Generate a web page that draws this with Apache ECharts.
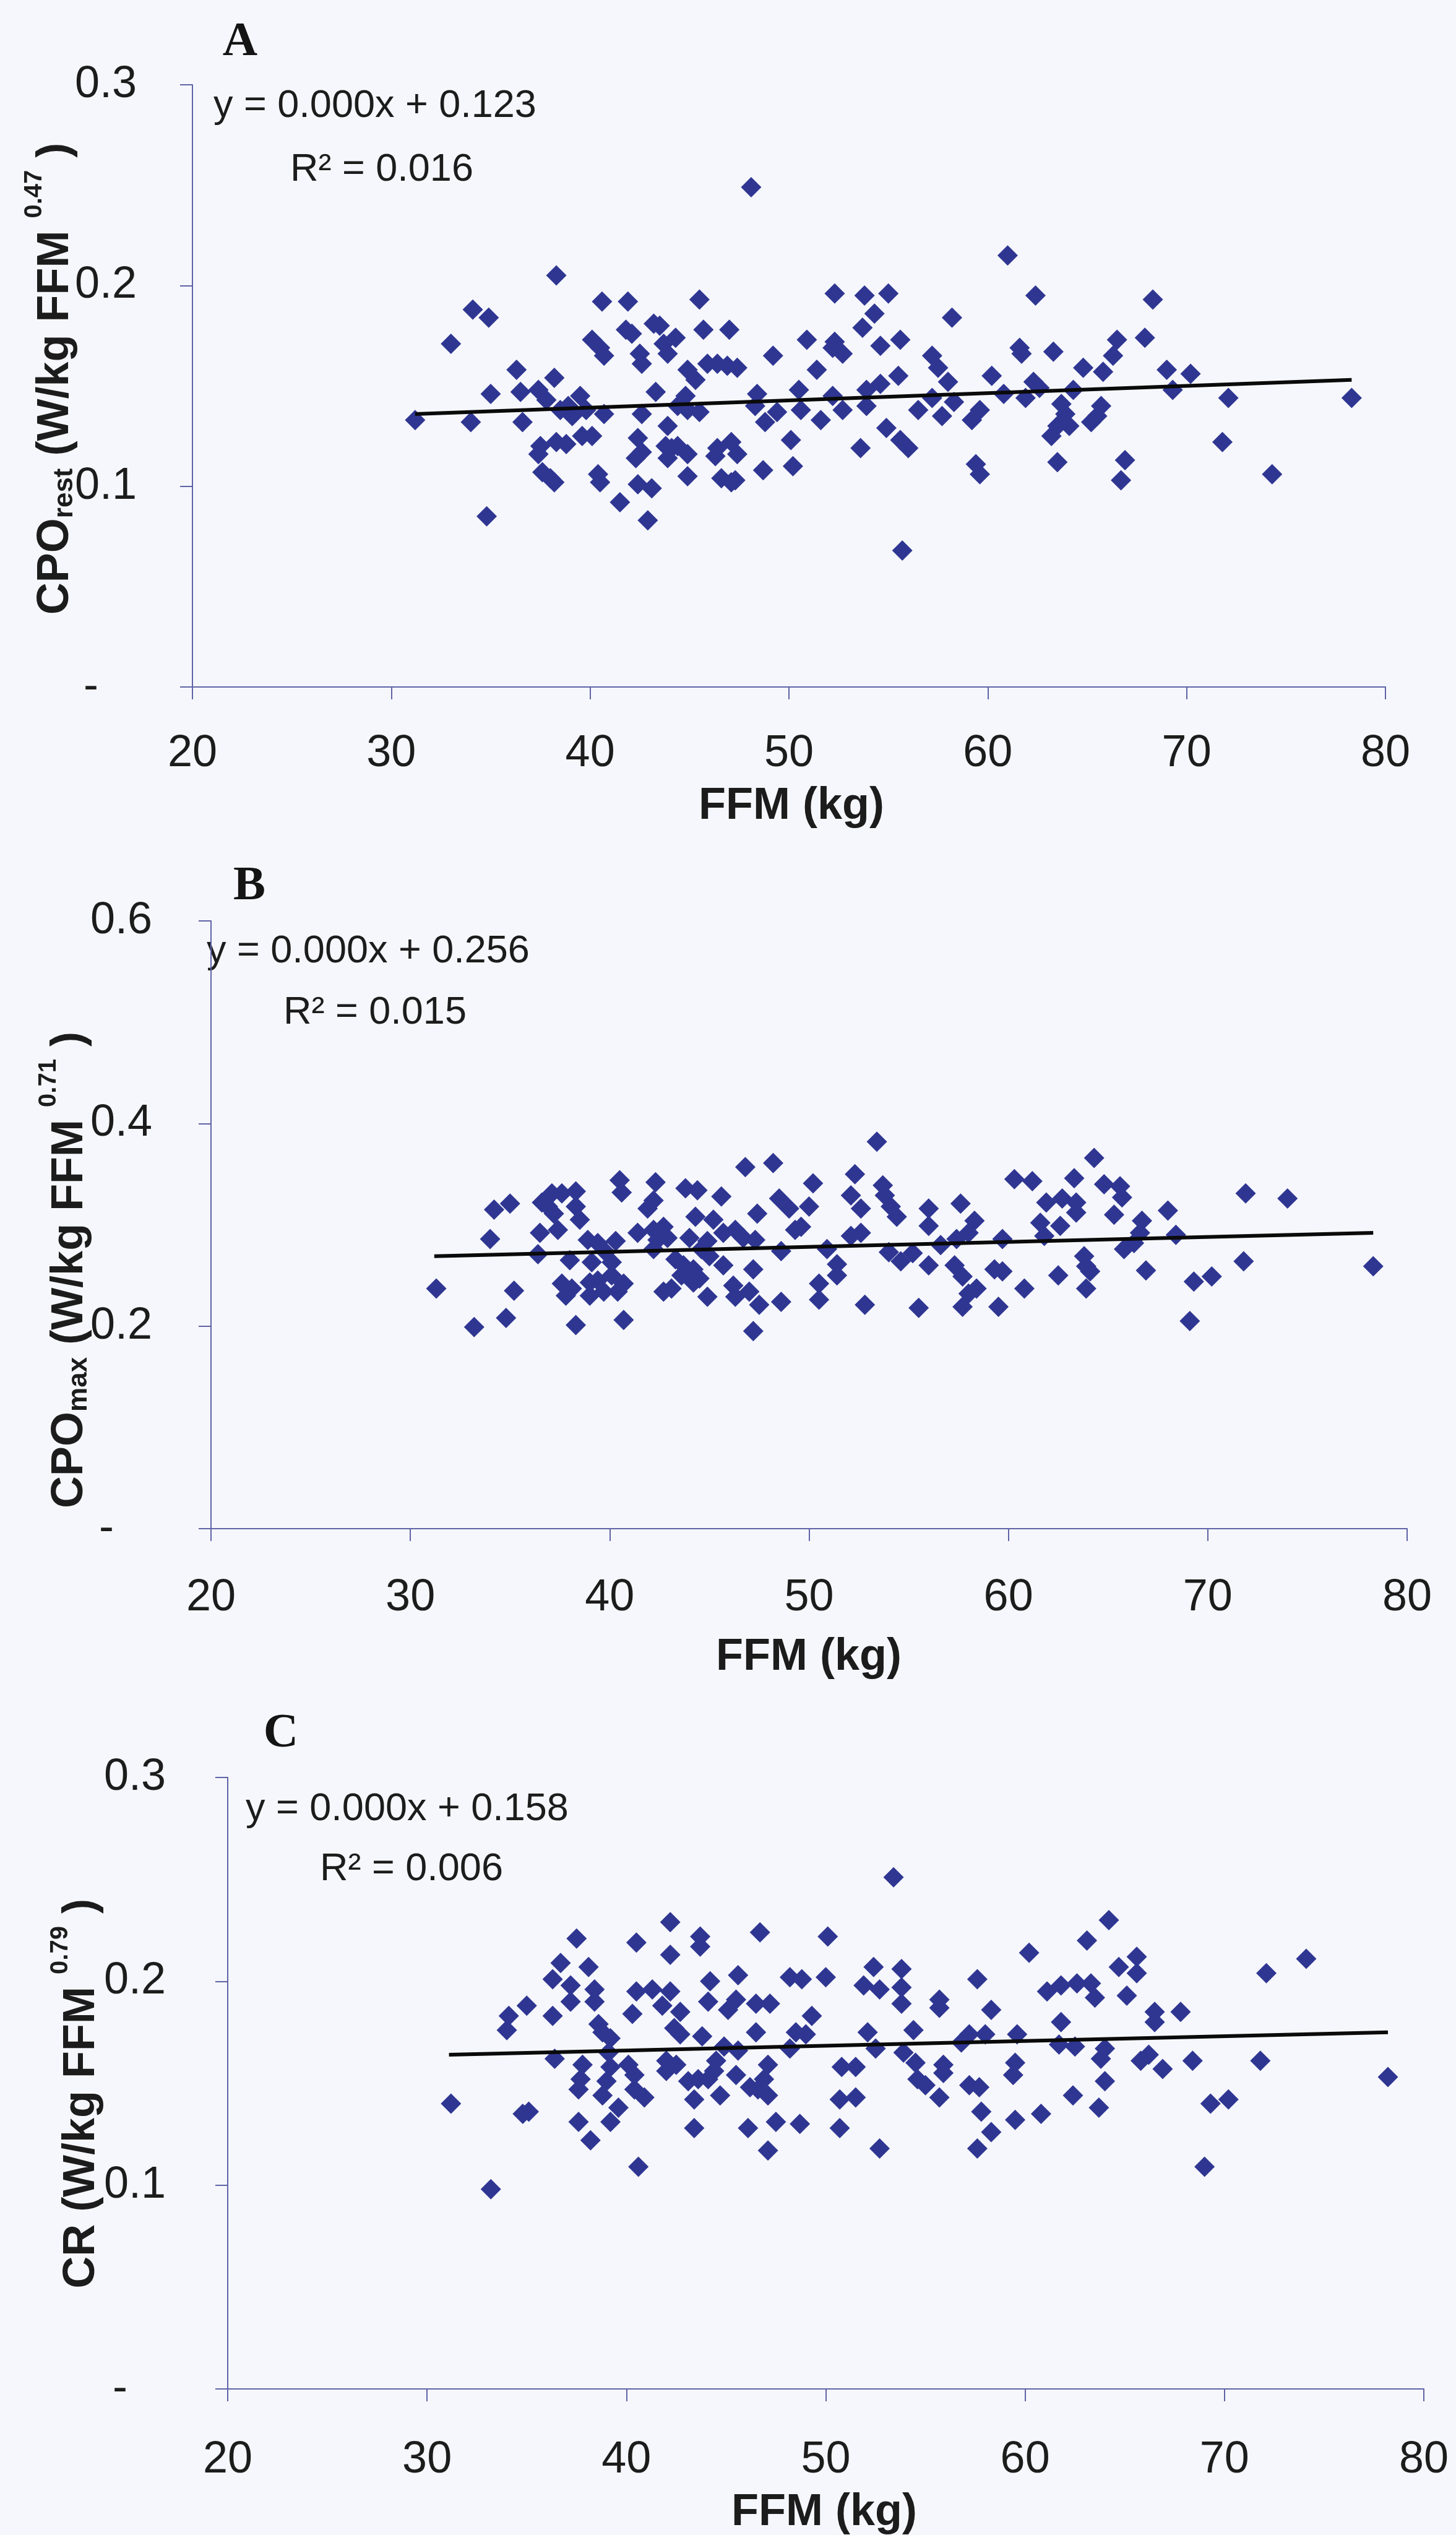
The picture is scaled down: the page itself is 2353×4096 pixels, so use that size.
<!DOCTYPE html>
<html><head><meta charset="utf-8">
<script src="https://cdn.jsdelivr.net/npm/echarts@6/dist/echarts.min.js"></script>
<style>html,body{margin:0;padding:0;background:#f6f7fc}#c{width:2353px;height:4096px}</style>
</head><body><div id="c"></div>
<script>
// Panel A: FFM (kg) vs CPO rest
const pointsA = [[48.1,0.249],[38.3,0.205],[34.1,0.188],[34.9,0.184],[33.0,0.171],[40.6,0.192],[41.9,0.192],[45.5,0.193],[52.3,0.196],[53.8,0.195],
[55.0,0.196],[54.3,0.186],[53.7,0.179],[54.6,0.170],[55.6,0.173],[41.8,0.178],[42.1,0.176],[43.2,0.181],[43.5,0.180],[45.7,0.178],
[47.0,0.178],[40.1,0.173],[40.5,0.169],[40.7,0.165],[43.7,0.171],[44.3,0.174],[43.9,0.166],[42.5,0.166],[42.6,0.161],[49.2,0.165],
[50.9,0.173],[52.3,0.172],[52.7,0.166],[52.2,0.169],[51.4,0.158],[44.9,0.158],[45.9,0.161],[46.4,0.161],[46.9,0.160],[47.4,0.159],
[45.3,0.153],[36.3,0.158],[38.2,0.154],[35.0,0.146],[36.5,0.147],[37.4,0.148],[31.2,0.133],[34.0,0.132],[36.6,0.132],[37.8,0.143],
[38.5,0.138],[39.1,0.135],[39.5,0.145],[39.8,0.138],[38.9,0.140],[40.7,0.136],[43.3,0.147],[42.6,0.136],[43.9,0.130],[44.4,0.140],
[44.8,0.145],[44.9,0.138],[45.5,0.137],[48.4,0.146],[48.3,0.140],[48.8,0.132],[49.4,0.137],[50.5,0.148],[50.6,0.138],[51.6,0.133],
[52.2,0.145],[52.7,0.138],[53.9,0.140],[53.9,0.148],[54.6,0.151],[55.5,0.155],[54.9,0.129],[55.6,0.123],[53.6,0.119],[50.1,0.123],
[50.2,0.110],[48.7,0.108],[47.1,0.122],[47.4,0.116],[46.4,0.119],[46.3,0.115],[46.6,0.104],[47.1,0.102],[47.3,0.103],[44.9,0.105],
[44.9,0.116],[44.1,0.119],[43.9,0.114],[44.4,0.120],[43.8,0.120],[42.4,0.124],[42.3,0.114],[42.6,0.117],[42.4,0.101],[43.1,0.099],
[42.9,0.083],[41.5,0.092],[40.4,0.106],[40.5,0.102],[40.1,0.125],[39.6,0.125],[38.8,0.121],[38.3,0.122],[37.5,0.120],[37.4,0.116],
[37.6,0.107],[38.0,0.104],[38.2,0.102],[34.8,0.085],[55.7,0.068],
[61.0,0.215],[62.4,0.195],[68.3,0.193],[58.2,0.184],[57.2,0.165],[57.5,0.159],[58.0,0.152],[61.6,0.169],[61.7,0.166],[63.3,0.167],
[64.8,0.159],[65.8,0.157],[66.3,0.165],[66.5,0.173],[67.9,0.174],[60.2,0.155],[60.8,0.146],[62.3,0.152],[62.6,0.149],[61.9,0.144],
[64.3,0.148],[63.7,0.141],[63.9,0.136],[63.5,0.130],[64.1,0.130],[63.2,0.125],[65.7,0.140],[65.5,0.135],[65.2,0.132],[69.0,0.158],
[70.2,0.156],[69.3,0.148],[72.1,0.144],[71.8,0.122],[74.3,0.106],[78.3,0.144],[56.5,0.138],[57.2,0.144],[57.7,0.135],[58.3,0.142],
[59.2,0.133],[59.6,0.138],[56.0,0.119],[59.4,0.111],[59.6,0.106],[63.5,0.112],[66.9,0.113],[66.7,0.103]];
const trendA = [[31.2,0.136],[78.3,0.153]];

// Panel B: FFM (kg) vs CPO max
const pointsB = [[53.4,0.382],[46.8,0.357],[48.2,0.361],[40.5,0.344],[40.6,0.332],[42.3,0.342],[42.2,0.324],[41.9,0.316],[43.8,0.336],[44.4,0.334],
[45.6,0.328],[50.2,0.341],[52.3,0.350],[53.7,0.339],[53.8,0.329],[52.1,0.329],[52.6,0.316],[48.5,0.326],[49.0,0.316],[50.0,0.318],
[47.4,0.311],[54.1,0.318],[54.4,0.308],[34.2,0.315],[35.0,0.321],[36.6,0.322],[37.1,0.331],[37.6,0.331],[38.3,0.333],[36.9,0.318],
[37.2,0.311],[38.3,0.318],[38.5,0.305],[36.5,0.292],[37.4,0.295],[34.0,0.286],[36.4,0.271],[38.9,0.285],[39.4,0.282],[40.3,0.284],
[39.8,0.273],[38.0,0.265],[39.1,0.263],[40.1,0.263],[41.4,0.292],[42.2,0.295],[42.7,0.298],[42.4,0.285],[42.9,0.287],[42.2,0.276],
[44.0,0.287],[44.3,0.308],[45.2,0.305],[44.6,0.276],[44.9,0.284],[45.7,0.292],[46.3,0.295],[46.7,0.287],[47.3,0.285],[48.6,0.274],
[49.3,0.295],[49.6,0.298],[50.9,0.276],[52.1,0.289],[52.6,0.292],[54.0,0.273],[54.6,0.264],[51.4,0.261],[51.4,0.250],[43.3,0.266],
[43.7,0.260],[44.2,0.256],[45.0,0.269],[45.7,0.260],[43.6,0.250],[43.1,0.237],[42.7,0.234],[44.2,0.243],[44.5,0.247],[44.9,0.229],
[46.2,0.240],[46.3,0.229],[47.0,0.234],[47.2,0.256],[47.5,0.221],[48.6,0.224],[47.2,0.195],[50.5,0.242],[50.5,0.226],[52.8,0.221],
[55.5,0.218],[37.6,0.242],[37.8,0.230],[38.1,0.237],[39.0,0.243],[39.0,0.230],[39.7,0.234],[40.4,0.234],[40.7,0.242],[40.1,0.250],
[39.4,0.245],[40.7,0.206],[38.3,0.201],[35.2,0.235],[34.8,0.208],[33.2,0.199],[31.3,0.237],
[64.3,0.366],[60.3,0.345],[61.2,0.343],[63.3,0.346],[64.8,0.340],[65.6,0.338],[65.7,0.327],[61.9,0.322],[62.7,0.326],[63.4,0.322],
[63.4,0.312],[65.3,0.310],[68.0,0.314],[61.6,0.302],[62.6,0.299],[61.8,0.289],[66.7,0.304],[66.6,0.292],[68.4,0.290],[71.9,0.331],
[74.0,0.326],[57.6,0.321],[58.3,0.304],[56.0,0.316],[56.0,0.299],[57.4,0.286],[58.0,0.292],[56.6,0.280],[59.7,0.286],[55.2,0.272],
[56.0,0.260],[57.3,0.260],[57.7,0.249],[59.3,0.256],[59.7,0.254],[60.8,0.237],[62.5,0.250],[63.8,0.269],[63.9,0.259],[64.1,0.254],
[63.9,0.237],[65.8,0.276],[66.3,0.282],[66.9,0.255],[58.0,0.232],[58.4,0.237],[57.7,0.219],[59.5,0.219],[69.3,0.244],[70.2,0.249],
[71.8,0.264],[69.1,0.205],[78.3,0.259]];
const trendB = [[31.2,0.269],[78.3,0.292]];

// Panel C: FFM (kg) vs CR
const pointsC = [[53.4,0.251],[42.2,0.229],[37.5,0.221],[40.5,0.219],[43.7,0.222],[43.7,0.217],[46.7,0.224],[50.1,0.222],[42.2,0.213],[36.7,0.209],
[38.1,0.207],[36.3,0.201],[37.2,0.198],[37.2,0.190],[38.4,0.196],[38.4,0.190],[35.0,0.188],[34.1,0.183],[34.0,0.176],[36.3,0.183],
[38.6,0.179],[38.8,0.175],[40.5,0.195],[41.3,0.196],[42.2,0.195],[40.3,0.184],[41.8,0.188],[42.7,0.185],[42.4,0.177],[42.7,0.174],
[44.2,0.200],[45.6,0.203],[44.1,0.190],[45.1,0.186],[45.5,0.191],[46.5,0.189],[47.2,0.189],[48.2,0.202],[48.8,0.201],[50.0,0.202],
[49.3,0.183],[48.5,0.175],[49.0,0.174],[48.2,0.167],[46.5,0.175],[43.8,0.173],[44.9,0.168],[45.6,0.166],[52.1,0.175],[52.5,0.167],
[52.4,0.207],[51.9,0.198],[52.7,0.196],[53.8,0.206],[53.8,0.197],[53.8,0.189],[54.4,0.176],[55.7,0.191],[55.7,0.187],[57.6,0.201],
[58.3,0.186],[53.9,0.165],[54.5,0.160],[55.9,0.159],[54.6,0.152],[55.0,0.149],[55.7,0.143],[50.8,0.158],[51.5,0.158],[50.7,0.142],
[51.5,0.143],[50.7,0.128],[52.7,0.118],[57.2,0.149],[57.7,0.148],[57.8,0.136],[58.3,0.126],[57.6,0.118],[36.4,0.162],[37.8,0.159],
[37.7,0.152],[37.6,0.147],[39.2,0.172],[39.1,0.165],[39.2,0.158],[39.0,0.151],[38.8,0.144],[39.6,0.138],[40.1,0.159],[40.4,0.154],
[40.4,0.147],[40.9,0.143],[42.0,0.161],[42.5,0.159],[42.0,0.156],[43.1,0.151],[43.6,0.152],[44.1,0.152],[44.4,0.156],[44.5,0.161],
[43.4,0.142],[44.7,0.144],[45.5,0.154],[46.2,0.148],[46.9,0.152],[47.1,0.159],[46.6,0.147],[47.1,0.144],[43.4,0.128],[46.1,0.128],
[47.5,0.131],[48.7,0.130],[47.1,0.117],[37.6,0.131],[38.2,0.122],[39.2,0.131],[40.6,0.109],[34.8,0.135],[35.1,0.136],[31.2,0.140],
[33.2,0.098],
[64.2,0.230],[63.1,0.220],[60.2,0.214],[74.1,0.211],[72.1,0.204],[65.6,0.212],[64.7,0.207],[65.6,0.204],[61.1,0.195],[61.8,0.198],
[62.6,0.199],[63.3,0.199],[63.5,0.192],[65.1,0.193],[66.5,0.185],[66.5,0.180],[67.8,0.185],[61.8,0.180],[56.8,0.170],[57.2,0.174],
[58.0,0.174],[59.6,0.174],[61.7,0.169],[62.5,0.168],[64.0,0.167],[63.8,0.162],[55.9,0.155],[59.5,0.160],[59.4,0.154],[59.5,0.132],
[60.8,0.135],[62.4,0.144],[63.7,0.138],[64.0,0.151],[65.8,0.161],[66.2,0.164],[66.9,0.157],[68.4,0.161],[71.8,0.161],[69.3,0.140],
[70.2,0.142],[69.0,0.109],[78.2,0.153]];
const trendC = [[31.1,0.164],[78.2,0.175]];

const yMax = [0.3, 0.6, 0.3];
const yStep = [0.1, 0.2, 0.1];
const equations = ['y = 0.000x + 0.123', 'y = 0.000x + 0.256', 'y = 0.000x + 0.158'];
const rSquared = ['R² = 0.016', 'R² = 0.015', 'R² = 0.006'];
const panelLetters = ['A', 'B', 'C'];
const xTitle = 'FFM (kg)';
const yTitleMain = ['CPO', 'CPO', 'CR'];
const yTitleSub = ['rest', 'max', ''];
const yTitleSup = ['0.47', '0.71', '0.79'];

const SANS = 'Liberation Sans, Arial, sans-serif';
const SERIF = 'Liberation Serif, Times New Roman, serif';
const AX = '#5f63a6';
const TXT = '#1c1c1c';
const MARK = '#2f3692';

const grids = [
  {left: 311, top: 137, width: 1928, height: 973},
  {left: 341, top: 1488, width: 1933, height: 982},
  {left: 368, top: 2872, width: 1933, height: 988}
];
const xLabelMargin = [72, 76, 79];
const yLabelMargin = [90, 95, 100];
const letterPos = [[388, 69], [403, 1433], [454, 2802]];
const eqPos = [[345, 172], [334, 1538], [397, 2924]];
const r2Pos = [[469, 275], [458, 1637], [517, 3021]];
const yTitlePos = [[81, 612], [104, 2052], [123, 3383]];
const xTitlePos = [[1279, 1303], [1307, 2678], [1332, 4060]];

const xAxes = [], yAxes = [], series = [], graphics = [];
const pts = [pointsA, pointsB, pointsC];
const trends = [trendA, trendB, trendC];
for (let i = 0; i < 3; i++) {
  xAxes.push({
    type: 'value', gridIndex: i, min: 20, max: 80, interval: 10,
    axisLine: {show: true, onZero: false, lineStyle: {color: AX, width: 2}},
    axisTick: {show: true, length: 20, lineStyle: {color: AX, width: 2}},
    splitLine: {show: false},
    axisLabel: {fontSize: 72, color: TXT, fontFamily: SANS, margin: xLabelMargin[i]}
  });
  yAxes.push({
    type: 'value', gridIndex: i, min: 0, max: yMax[i], interval: yStep[i],
    axisLine: {show: true, lineStyle: {color: AX, width: 2}},
    axisTick: {show: true, length: 20, lineStyle: {color: AX, width: 2}},
    splitLine: {show: false},
    axisLabel: {
      fontSize: 72, color: TXT, fontFamily: SANS, margin: yLabelMargin[i],
      formatter: v => (Math.abs(v) < 1e-9 ? '{d|-}' : v.toFixed(1)),
      rich: {d: {fontSize: 72, color: TXT, fontFamily: SANS, padding: [0, 62, 0, 0]}}
    }
  });
  series.push({
    type: 'scatter', xAxisIndex: i, yAxisIndex: i, data: pts[i],
    symbol: 'diamond', symbolSize: 33, itemStyle: {color: MARK, opacity: 1}, z: 2
  });
  series.push({
    type: 'line', xAxisIndex: i, yAxisIndex: i, data: trends[i], showSymbol: false,
    lineStyle: {color: '#0a0a0a', width: 6}, z: 3, silent: true
  });
  graphics.push({type: 'text', x: letterPos[i][0], y: letterPos[i][1],
    style: {text: panelLetters[i], fontSize: 78, fontWeight: 'bold', fontFamily: SERIF, fill: '#141414',
      align: 'center', verticalAlign: 'middle', textAlign: 'center', textVerticalAlign: 'middle'}});
  graphics.push({type: 'text', x: eqPos[i][0], y: eqPos[i][1],
    style: {text: equations[i], fontSize: 63, fontFamily: SANS, fill: TXT,
      align: 'left', verticalAlign: 'middle', textAlign: 'left', textVerticalAlign: 'middle'}});
  graphics.push({type: 'text', x: r2Pos[i][0], y: r2Pos[i][1],
    style: {text: rSquared[i], fontSize: 63, fontFamily: SANS, fill: TXT,
      align: 'left', verticalAlign: 'middle', textAlign: 'left', textVerticalAlign: 'middle'}});
  graphics.push({type: 'text', x: xTitlePos[i][0], y: xTitlePos[i][1],
    style: {text: xTitle, fontSize: 72, fontWeight: 'bold', fontFamily: SANS, fill: TXT,
      align: 'center', verticalAlign: 'middle', textAlign: 'center', textVerticalAlign: 'middle'}});
  const subPart = yTitleSub[i] ? '{s|' + yTitleSub[i] + '}' : '';
  graphics.push({type: 'text', x: yTitlePos[i][0], y: yTitlePos[i][1], rotation: Math.PI / 2,
    style: {
      text: '{m|' + yTitleMain[i] + '}' + subPart + '{m| (W/kg FFM }{p|' + yTitleSup[i] + '}{m| )}',
      align: 'center', verticalAlign: 'middle', textAlign: 'center', textVerticalAlign: 'middle',
      fill: TXT,
      rich: {
        m: {fontSize: 72, fontWeight: 'bold', fontFamily: SANS, fill: TXT, color: TXT, verticalAlign: 'bottom'},
        s: {fontSize: 44, fontWeight: 'bold', fontFamily: SANS, fill: TXT, color: TXT, verticalAlign: 'bottom'},
        p: {fontSize: 40, fontWeight: 'bold', fontFamily: SANS, fill: TXT, color: TXT, verticalAlign: 'top', padding: [0, 0, 51, 0]}
      }
    }});
}

const chart = echarts.init(document.getElementById('c'), null, {renderer: 'canvas'});
chart.setOption({
  backgroundColor: '#f6f7fc',
  animation: false,
  grid: grids,
  xAxis: xAxes,
  yAxis: yAxes,
  series: series,
  graphic: {elements: graphics}
});
</script></body></html>
